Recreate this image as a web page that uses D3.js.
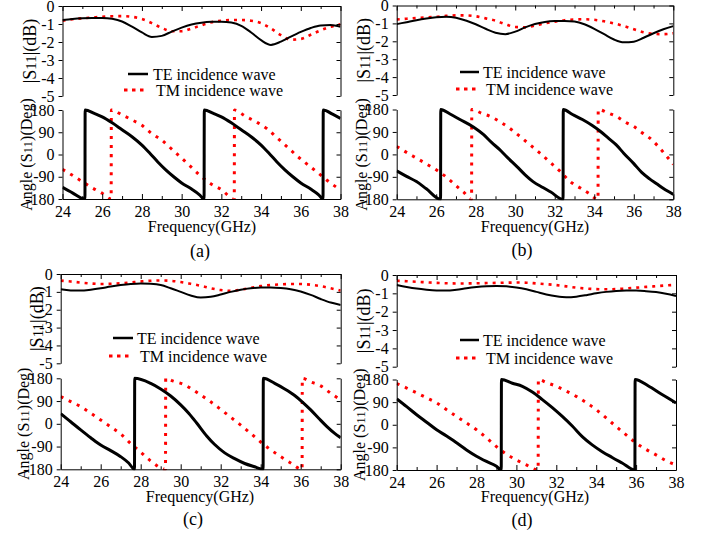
<!DOCTYPE html>
<html>
<head>
<meta charset="utf-8">
<script src="https://cdn.jsdelivr.net/npm/d3@7"></script>
<style>
  body { margin: 0; background: #fff; }
  svg text { font-family: "Liberation Serif", "Times New Roman", Tinos, "DejaVu Serif", serif; fill: #000; }
</style>
</head>
<body>
<svg id="chart" width="706" height="537"></svg>
<script>
// ---- data ----
const freqTicks = [24, 26, 28, 30, 32, 34, 36, 38];
const freqMinor = [25, 27, 29, 31, 33, 35, 37];
const magTicks = [0, -1, -2, -3, -4, -5];
const phaseTicks = [180, 90, 0, -90, -180];

const magFreq = [24, 24.5, 25, 25.5, 26, 26.5, 27, 27.5, 28, 28.5, 29, 29.5, 30, 30.5, 31,
                 31.5, 32, 32.5, 33, 33.5, 34, 34.5, 35, 35.5, 36, 36.5, 37, 37.5, 38];

// |S11| (dB)
const magA_TE = [-0.78, -0.72, -0.68, -0.66, -0.66, -0.71, -0.86, -1.15, -1.47, -1.72, -1.66, -1.42, -1.2, -1.03, -0.93,
                 -0.88, -0.87, -0.92, -1.1, -1.47, -1.9, -2.16, -1.98, -1.7, -1.44, -1.22, -1.08, -1.06, -1.15];
const magA_TM = [-0.82, -0.74, -0.68, -0.64, -0.6, -0.57, -0.56, -0.6, -0.72, -0.95, -1.22, -1.4, -1.4, -1.25, -1.07,
                 -0.9, -0.82, -0.78, -0.78, -0.82, -0.95, -1.25, -1.62, -1.87, -1.83, -1.6, -1.35, -1.15, -1.02];
const magB_TE = [-1.04, -0.93, -0.82, -0.73, -0.66, -0.63, -0.68, -0.84, -1.05, -1.3, -1.52, -1.6, -1.46, -1.22, -1.03,
                 -0.92, -0.87, -0.86, -0.9, -1.05, -1.3, -1.6, -1.9, -2.06, -2.02, -1.8, -1.55, -1.33, -1.15];
const magB_TM = [-0.78, -0.74, -0.7, -0.66, -0.63, -0.58, -0.55, -0.55, -0.6, -0.72, -0.85, -1.05, -1.2, -1.22, -1.12,
                 -1.0, -0.9, -0.82, -0.78, -0.77, -0.8, -0.88, -1.0, -1.15, -1.33, -1.5, -1.58, -1.6, -1.55];
const magC_TE = [-0.86, -0.92, -0.93, -0.88, -0.8, -0.7, -0.62, -0.56, -0.53, -0.55, -0.62, -0.8, -1.0, -1.2, -1.32,
                 -1.28, -1.15, -1.0, -0.88, -0.8, -0.76, -0.75, -0.78, -0.85, -0.98, -1.17, -1.4, -1.6, -1.73];
const magC_TM = [-0.37, -0.42, -0.48, -0.53, -0.56, -0.55, -0.52, -0.47, -0.42, -0.38, -0.36, -0.38, -0.45, -0.55, -0.66,
                 -0.8, -0.9, -0.94, -0.88, -0.78, -0.68, -0.62, -0.58, -0.56, -0.56, -0.6, -0.68, -0.8, -0.93];
const magD_TE = [-0.54, -0.65, -0.74, -0.8, -0.84, -0.85, -0.8, -0.72, -0.66, -0.62, -0.6, -0.62, -0.68, -0.78, -0.92,
                 -1.06, -1.16, -1.21, -1.18, -1.1, -1.0, -0.92, -0.87, -0.85, -0.85, -0.88, -0.93, -1.02, -1.14];
const magD_TM = [-0.31, -0.34, -0.37, -0.4, -0.43, -0.45, -0.46, -0.46, -0.45, -0.44, -0.43, -0.42, -0.41, -0.42, -0.46,
                 -0.5, -0.55, -0.62, -0.69, -0.74, -0.77, -0.78, -0.77, -0.73, -0.69, -0.65, -0.61, -0.57, -0.54];

// angle (deg), [GHz, deg] ; the wrap from -180 to 180 is two points 0.01 GHz apart
const phaseA_TE = [[24,-133],[24.5,-155],[25.13,-180],[25.14,180],[25.6,166],[26,152],[26.5,128],[27,100],[27.5,72],
  [28,38],[28.4,5],[28.8,-30],[29.2,-62],[29.6,-90],[30,-115],[30.5,-140],[30.9,-163],[31.13,-180],[31.14,180],
  [31.6,166],[32,152],[32.5,128],[33,100],[33.5,72],[34,38],[34.4,5],[34.8,-30],[35.2,-62],[35.6,-90],[36,-115],
  [36.5,-140],[36.9,-163],[37.12,-180],[37.13,180],[37.6,163],[38,146]];
const phaseA_TM = [[24,-60],[24.5,-84],[25,-110],[25.5,-135],[26,-157],[26.45,-180],[26.46,180],[27,160],[27.5,140],
  [28,118],[28.5,84],[29,58],[29.5,22],[30,-15],[30.5,-52],[31,-90],[31.5,-120],[32,-142],[32.65,-180],[32.66,180],
  [33.2,155],[33.8,130],[34.3,104],[34.8,68],[35.3,32],[35.8,-5],[36.3,-38],[36.8,-70],[37.3,-103],[38,-144]];
const phaseB_TE = [[24,-66],[24.5,-88],[25,-109],[25.5,-138],[26.22,-180],[26.23,180],[26.7,162],[27.2,140],[27.9,109],
  [28.4,79],[28.8,48],[29.2,20],[29.6,-12],[30.1,-50],[30.5,-82],[30.9,-109],[31.4,-133],[31.8,-151],[32.42,-180],
  [32.43,180],[32.9,160],[33.4,140],[33.9,116],[34.3,93],[34.7,66],[35.1,39],[35.5,4],[36,-37],[36.4,-72],[36.8,-98],
  [37.2,-120],[37.5,-137],[38,-160]];
const phaseB_TM = [[24,32],[24.5,8],[25,-15],[25.5,-38],[26,-62],[26.5,-90],[27,-125],[27.4,-152],[27.79,-180],[27.8,180],
  [28.3,165],[28.8,150],[29.3,127],[29.8,100],[30.3,68],[30.8,35],[31.3,2],[31.8,-34],[32.3,-70],[32.8,-110],[33.3,-135],
  [33.7,-155],[34.19,-180],[34.2,180],[34.7,166],[35.1,153],[35.6,128],[36,112],[36.4,88],[36.8,66],[37.2,35],[37.5,8],[38,-40]];
const phaseC_TE = [[24,40],[24.5,8],[25,-24],[25.5,-55],[26,-84],[26.5,-106],[27,-130],[27.4,-155],[27.69,-180],[27.7,180],
  [28.5,160],[29,138],[29.5,110],[30,75],[30.4,42],[30.8,3],[31.3,-48],[31.7,-82],[32.2,-115],[32.7,-138],[33.2,-157],
  [33.7,-170],[34.12,-180],[34.13,180],[34.7,160],[35.2,138],[35.7,112],[36.1,85],[36.5,55],[36.9,22],[37.3,-10],
  [37.7,-38],[38,-55]];
const phaseC_TM = [[24,108],[24.5,88],[25,68],[25.5,42],[26,15],[26.5,-12],[27,-40],[27.5,-78],[28,-112],[28.5,-147],
  [29.24,-180],[29.25,180],[29.6,170],[30.2,154],[30.6,135],[31,114],[31.5,87],[32,57],[32.5,26],[33,-5],[33.5,-38],
  [34,-72],[34.5,-103],[35,-130],[35.5,-155],[36.07,-180],[36.08,180],[36.5,166],[37,150],[37.5,121],[38,94]];
const phaseD_TE = [[24,103],[24.5,72],[25,40],[25.5,10],[26,-20],[26.5,-45],[27,-72],[27.5,-100],[28,-125],[28.5,-146],
  [29,-165],[29.24,-180],[29.25,180],[29.8,165],[30.3,153],[30.8,130],[31.3,100],[31.8,68],[32.3,33],[32.8,-5],
  [33.3,-47],[33.8,-80],[34.3,-107],[34.8,-130],[35.3,-152],[35.94,-180],[35.95,180],[36.6,155],[37.3,120],[38,87]];
const phaseD_TM = [[24,164],[24.5,146],[25,127],[25.5,107],[26,87],[26.5,60],[27,33],[27.5,7],[28,-20],[28.5,-52],
  [29,-87],[29.5,-117],[30,-140],[30.5,-160],[31.09,-180],[31.1,180],[31.5,168],[32,153],[32.5,134],[33,113],[33.5,88],
  [34,60],[34.5,27],[35,-7],[35.5,-40],[36,-73],[36.5,-98],[37,-120],[37.5,-143],[38,-160]];

const legendTE = "TE incidence wave";
const legendTM = "TM incidence wave";

// ---- layout of the 4 sub figures ----
const panels = [
  { cap: "(a)", magTE: magA_TE, magTM: magA_TM, phTE: phaseA_TE, phTM: phaseA_TM,
    x0: 62.5, x1: 340.5, magTop: 6, magBottom: 96, phTop: 110, phBottom: 199,
    magLabelX: 30, angLabelX: 26, legX: [128, 148], legText: 153, teY: 74, tmY: 90,
    freqX: 202, freqY: 232, capX: 200, capY: 257 },
  { cap: "(b)", magTE: magB_TE, magTM: magB_TM, phTE: phaseB_TE, phTM: phaseB_TM,
    x0: 396.7, x1: 673.3, magTop: 5.5, magBottom: 95, phTop: 109.5, phBottom: 199.3,
    magLabelX: 364, angLabelX: 361, legX: [460, 479], legText: 483, teY: 72, tmY: 89,
    freqX: 535, freqY: 232, capX: 522, capY: 256 },
  { cap: "(c)", magTE: magC_TE, magTM: magC_TM, phTE: phaseC_TE, phTM: phaseC_TM,
    x0: 60.7, x1: 340.7, magTop: 274, magBottom: 363.3, phTop: 378.3, phBottom: 469.3,
    magLabelX: 37, angLabelX: 23, legX: [113, 133], legText: 137, teY: 338, tmY: 356,
    freqX: 200, freqY: 502, capX: 193, capY: 525 },
  { cap: "(d)", magTE: magD_TE, magTM: magD_TM, phTE: phaseD_TE, phTM: phaseD_TM,
    x0: 396.7, x1: 676, magTop: 275, magBottom: 366.7, phTop: 379.5, phBottom: 470,
    magLabelX: 364, angLabelX: 359, legX: [460, 479], legText: 483, teY: 340, tmY: 358,
    freqX: 535, freqY: 502, capX: 522, capY: 526 }
];

const svg = d3.select("#chart");
const defs = svg.append("defs");
const FONT = '"Liberation Serif", "Times New Roman", Tinos, "DejaVu Serif", serif';
const fmt = d => String(d);   // plain hyphen minus like the original

function styleAxis(sel) {
  sel.attr("font-size", 16).attr("font-family", FONT);
  sel.selectAll("line,path").attr("stroke", "#000").attr("stroke-width", 1);
}

function drawPanel(p, i) {
  const g = svg.append("g");

  const x = d3.scaleLinear().domain([24, 38]).range([p.x0, p.x1]);
  const yMag = d3.scaleLinear().domain([-5, 0]).range([p.magBottom, p.magTop]);
  const yPh = d3.scaleLinear().domain([-180, 180]).range([p.phBottom, p.phTop]);

  defs.append("clipPath").attr("id", "cm" + i).append("rect")
    .attr("x", p.x0).attr("y", p.magTop).attr("width", p.x1 - p.x0).attr("height", p.magBottom - p.magTop);
  defs.append("clipPath").attr("id", "cp" + i).append("rect")
    .attr("x", p.x0).attr("y", p.phTop - 2).attr("width", p.x1 - p.x0).attr("height", p.phBottom - p.phTop + 3);
  defs.append("clipPath").attr("id", "cl" + i).append("rect")
    .attr("x", 0).attr("y", p.magBottom + 1.5).attr("width", 706).attr("height", 537);

  // ---- magnitude plot ----
  const magLine = d3.line()
    .x((d, j) => x(magFreq[j]))
    .y(d => yMag(d))
    .curve(d3.curveMonotoneX);

  const mg = g.append("g").attr("clip-path", `url(#cm${i})`);
  mg.append("path").datum(p.magTM).attr("d", magLine)
    .attr("fill", "none").attr("stroke", "#ff0000").attr("stroke-width", 2.6).attr("stroke-dasharray", "3,5");
  mg.append("path").datum(p.magTE).attr("d", magLine)
    .attr("fill", "none").attr("stroke", "#000").attr("stroke-width", 2);

  g.append("g").attr("transform", `translate(${p.x0},0)`)
    .call(d3.axisLeft(yMag).tickValues(magTicks).tickFormat(fmt).tickSize(4).tickPadding(4).tickSizeOuter(0))
    .call(styleAxis);
  g.append("g").attr("transform", `translate(${p.x1},0)`)
    .call(d3.axisRight(yMag).tickValues(magTicks).tickFormat("").tickSize(-4).tickSizeOuter(0))
    .call(styleAxis);
  g.append("g").attr("transform", `translate(0,${p.magTop})`)
    .call(d3.axisTop(x).tickValues(freqTicks).tickFormat("").tickSize(-5).tickSizeOuter(0))
    .call(styleAxis);
  g.append("g").attr("transform", `translate(0,${p.magTop})`)
    .call(d3.axisTop(x).tickValues(freqMinor).tickFormat("").tickSize(-3).tickSizeOuter(0))
    .call(styleAxis)
    .select(".domain").remove();

  // legend
  g.append("line")
    .attr("x1", p.legX[0]).attr("x2", p.legX[1]).attr("y1", p.teY).attr("y2", p.teY)
    .attr("stroke", "#000").attr("stroke-width", 2.5);
  g.append("text").attr("x", p.legText).attr("y", p.teY).attr("dy", "0.35em")
    .attr("font-size", 16).text(legendTE);
  g.append("line")
    .attr("x1", p.legX[0] - 4).attr("x2", p.legX[1]).attr("y1", p.tmY).attr("y2", p.tmY)
    .attr("stroke", "#ff0000").attr("stroke-width", 3).attr("stroke-dasharray", "3.5,4.5");
  g.append("text").attr("x", p.legText + 3).attr("y", p.tmY).attr("dy", "0.35em")
    .attr("font-size", 16).text(legendTM);

  // y title |S11|(dB)
  const mt = g.append("text")
    .attr("transform", `translate(${p.magLabelX},${(p.magTop + p.magBottom) / 2}) rotate(-90)`)
    .attr("text-anchor", "middle").attr("dy", "0.35em").attr("font-size", 18);
  mt.append("tspan").text("|S");
  mt.append("tspan").attr("font-size", 15).text("11");
  mt.append("tspan").text("|(dB)");

  // ---- phase plot ----
  const phLine = d3.line()
    .x(d => x(d[0]))
    .y(d => yPh(d[1]))
    .curve(d3.curveMonotoneX);

  const pg = g.append("g").attr("clip-path", `url(#cp${i})`);
  pg.append("path").datum(p.phTM).attr("d", phLine)
    .attr("fill", "none").attr("stroke", "#ff0000").attr("stroke-width", 3).attr("stroke-dasharray", "3,6");
  pg.append("path").datum(p.phTE).attr("d", phLine)
    .attr("fill", "none").attr("stroke", "#000").attr("stroke-width", 3);

  g.append("g").attr("transform", `translate(${p.x0},0)`)
    .call(d3.axisLeft(yPh).tickValues(phaseTicks).tickFormat(fmt).tickSize(4).tickPadding(4).tickSizeOuter(0))
    .call(styleAxis);
  g.append("g").attr("transform", `translate(${p.x1},0)`)
    .call(d3.axisRight(yPh).tickValues(phaseTicks).tickFormat("").tickSize(-4).tickSizeOuter(0))
    .call(styleAxis);
  g.append("g").attr("transform", `translate(0,${p.phBottom})`)
    .call(d3.axisBottom(x).tickValues(freqTicks).tickFormat(fmt).tickSize(-5).tickPadding(6.5).tickSizeOuter(0))
    .call(styleAxis);
  g.append("g").attr("transform", `translate(0,${p.phBottom})`)
    .call(d3.axisBottom(x).tickValues(freqMinor).tickFormat("").tickSize(-3).tickSizeOuter(0))
    .call(styleAxis)
    .select(".domain").remove();

  // y title Angle(S11)(Deg), its top end is hidden under the magnitude plot
  const at = g.append("g").attr("clip-path", `url(#cl${i})`)
    .append("text")
    .attr("transform", `translate(${p.angLabelX},${(p.phTop + p.phBottom) / 2}) rotate(-90)`)
    .attr("text-anchor", "middle").attr("dy", "0.35em").attr("font-size", 16);
  at.append("tspan").text("Angle (S");
  at.append("tspan").attr("font-size", 13).text("11");
  at.append("tspan").text(")(Deg)");

  // x title + caption
  g.append("text").attr("x", p.freqX).attr("y", p.freqY).attr("text-anchor", "middle")
    .attr("font-size", 16).text("Frequency(GHz)");
  g.append("text").attr("x", p.capX).attr("y", p.capY).attr("text-anchor", "middle")
    .attr("font-size", 18).text(p.cap);
}

panels.forEach(drawPanel);
</script>
</body>
</html>
